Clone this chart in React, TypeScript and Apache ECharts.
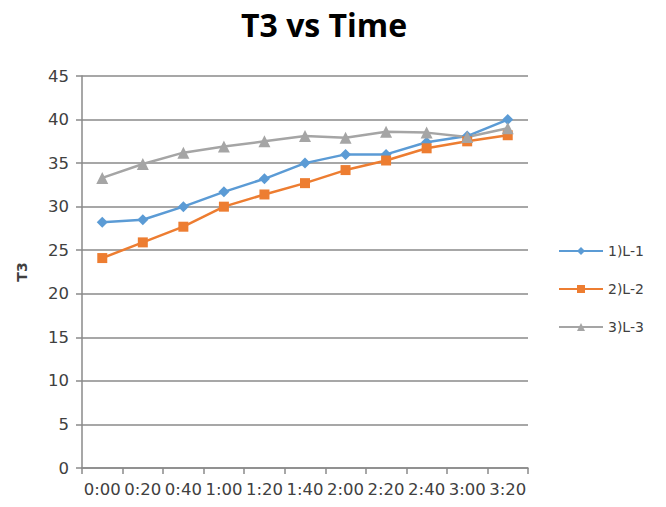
import React, { useEffect, useRef } from "react";
import * as echarts from "echarts";

const timeLabels = ["0:00", "0:20", "0:40", "1:00", "1:20", "1:40", "2:00", "2:20", "2:40", "3:00", "3:20"];
const seriesL1 = [28.2, 28.5, 30.0, 31.7, 33.2, 35.0, 36.0, 36.0, 37.4, 38.1, 40.0];
const seriesL2 = [24.1, 25.9, 27.7, 30.0, 31.4, 32.7, 34.2, 35.3, 36.7, 37.5, 38.2];
const seriesL3 = [33.3, 34.9, 36.2, 36.9, 37.5, 38.1, 37.9, 38.6, 38.5, 38.0, 39.0];
const seriesNames = ["1)L-1", "2)L-2", "3)L-3"];

const TITLE_FONT = "'Open Sans', 'Noto Sans', sans-serif";
const LABEL_FONT = "'DejaVu Sans', 'Noto Sans', sans-serif";
const AXIS_GRAY = "#8a8a8a";
const TEXT_GRAY = "#404040";

export default function App() {
  const ref = useRef<HTMLDivElement | null>(null);

  useEffect(() => {
    if (!ref.current) return;
    const chart = echarts.init(ref.current, undefined, { renderer: "svg" });

    const lineSeries = (name: string, data: number[], color: string, symbol: string, size: number) => ({
      name,
      type: "line",
      data,
      symbol,
      symbolSize: size,
      showSymbol: true,
      lineStyle: { color, width: 2.5 },
      itemStyle: { color },
    });

    chart.setOption({
      animation: false,
      backgroundColor: "#ffffff",
      textStyle: { fontFamily: LABEL_FONT },
      title: {
        text: "T3 vs Time",
        left: 241,
        top: 4,
        padding: 0,
        textStyle: { fontFamily: TITLE_FONT, fontSize: 32, fontWeight: "bold", color: "#000000", lineHeight: 40 },
      },
      legend: {
        orient: "vertical",
        left: 553,
        top: 239,
        itemGap: 24,
        itemWidth: 44,
        itemHeight: 10,
        data: seriesNames,
        textStyle: { fontFamily: LABEL_FONT, fontSize: 14, color: TEXT_GRAY },
      },
      grid: { left: 82, right: 138, top: 76, bottom: 39, containLabel: false },
      xAxis: {
        type: "category",
        data: timeLabels,
        boundaryGap: true,
        axisLine: { lineStyle: { color: AXIS_GRAY, width: 1.5 } },
        axisTick: { show: true, length: 6, interval: 0, lineStyle: { color: AXIS_GRAY, width: 1.5 } },
        axisLabel: { interval: 0, fontFamily: LABEL_FONT, fontSize: 16.5, color: TEXT_GRAY, margin: 13 },
        splitLine: { show: false },
      },
      yAxis: {
        type: "value",
        name: "T3",
        nameLocation: "middle",
        nameGap: 53,
        nameRotate: 90,
        nameTextStyle: { fontFamily: LABEL_FONT, fontSize: 14, fontWeight: "bold", color: TEXT_GRAY },
        min: 0,
        max: 45,
        interval: 5,
        axisLine: { show: true, lineStyle: { color: AXIS_GRAY, width: 1.5 } },
        axisTick: { show: true, inside: false, length: 6, lineStyle: { color: AXIS_GRAY, width: 1.5 } },
        axisLabel: { fontFamily: LABEL_FONT, fontSize: 16.5, color: TEXT_GRAY, margin: 13 },
        splitLine: { show: true, lineStyle: { color: AXIS_GRAY, width: 1.5 } },
      },
      series: [
        lineSeries(seriesNames[0], seriesL1, "#5b9bd5", "diamond", 11),
        lineSeries(seriesNames[1], seriesL2, "#ed7d31", "rect", 10),
        lineSeries(seriesNames[2], seriesL3, "#a5a5a5", "triangle", 12),
      ],
    });

    return () => chart.dispose();
  }, []);

  // The chart covers the whole page, cancelling the body's default margin.
  return <div ref={ref} style={{ width: 666, height: 507, margin: -8 }} />;
}
